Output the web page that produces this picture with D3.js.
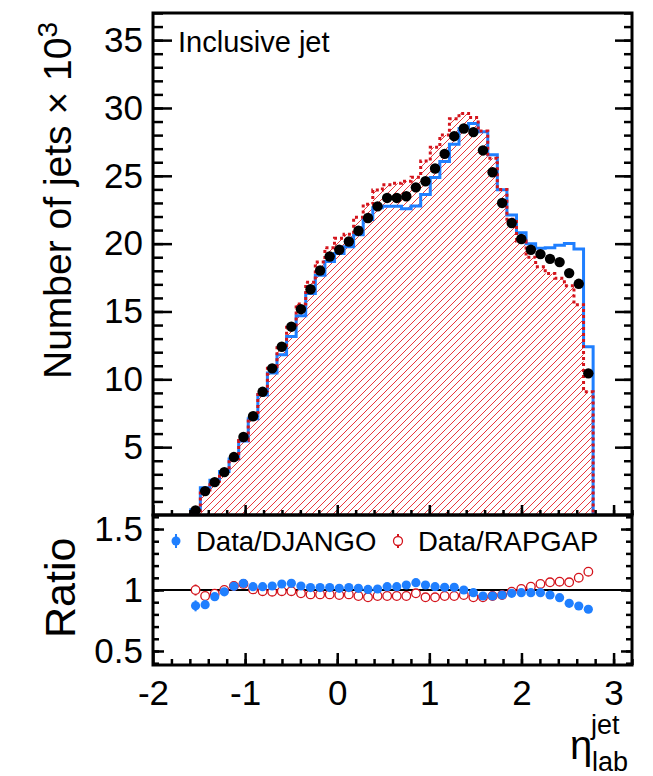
<!DOCTYPE html>
<html>

<head>
    <meta charset="utf-8">
    <style>
        body { margin: 0; background: #fff; }
        text { font-family: "Liberation Sans", Arial, Helvetica, sans-serif; fill: #000; }
        .axis .domain { display: none; }
        .axis line { stroke: #000; stroke-width: 2.5px; }
        .tick text { font-size: 35px; }
        .hatch-line { fill: none; stroke: #e8383c; stroke-width: 1px; }
    </style>
</head>

<body>
    <script src="https://cdn.jsdelivr.net/npm/d3@7/dist/d3.min.js"></script>
    <script>
        // bin edges in eta_lab (42 bins)
        var etaEdges = [-1.590, -1.486, -1.382, -1.278, -1.174, -1.070, -0.966, -0.862, -0.758, -0.654,
            -0.550, -0.446, -0.342, -0.238, -0.134, -0.030, 0.074, 0.178, 0.282, 0.386,
            0.490, 0.594, 0.698, 0.802, 0.906, 1.010, 1.114, 1.218, 1.322, 1.426,
            1.530, 1.634, 1.738, 1.842, 1.946, 2.050, 2.154, 2.258, 2.362, 2.466,
            2.570, 2.674, 2.778];

        // number of jets x 10^3
        var dataVals = [0.33, 1.76, 2.42, 3.16, 4.27, 5.75, 7.28, 9.08, 10.81, 12.40,
            13.88, 15.17, 16.64, 18.02, 19.05, 19.55, 20.16, 20.95, 21.89, 22.75,
            23.37, 23.37, 23.49, 24.15, 24.60, 25.54, 26.62, 27.92, 28.49, 28.22,
            26.87, 25.26, 23.00, 21.52, 20.34, 19.55, 19.23, 18.88, 18.64, 17.83,
            17.04, 10.44];
        var djangoVals = [0.38, 2.01, 2.56, 3.20, 4.13, 5.45, 7.09, 8.84, 10.46, 11.82,
            13.16, 14.69, 16.33, 17.68, 18.69, 19.28, 19.78, 20.66, 21.78, 22.64,
            22.76, 22.76, 22.57, 22.78, 23.63, 24.87, 26.05, 27.32, 28.49, 28.85,
            28.25, 26.56, 23.98, 22.12, 20.80, 19.99, 19.66, 19.69, 19.89, 20.01,
            19.61, 12.40];
        var rapgapVals = [0.33, 1.85, 2.49, 3.16, 4.15, 5.50, 7.25, 9.15, 10.95, 12.50,
            14.00, 15.55, 17.15, 18.65, 19.70, 20.40, 20.70, 21.95, 22.90, 23.95,
            24.35, 24.45, 24.60, 24.90, 26.10, 27.10, 28.00, 29.20, 29.60, 29.30,
            28.30, 26.30, 24.00, 21.80, 20.20, 19.00, 18.30, 17.80, 17.45, 16.90,
            15.50, 9.08];

        // ratios
        var ratioDjango = [0.870, 0.880, 0.945, 0.985, 1.030, 1.055, 1.027, 1.027, 1.033, 1.049,
            1.055, 1.033, 1.020, 1.020, 1.020, 1.014, 1.020, 1.014, 1.005, 1.008,
            1.027, 1.027, 1.041, 1.060, 1.041, 1.027, 1.022, 1.022, 1.000, 0.978,
            0.951, 0.951, 0.959, 0.973, 0.978, 0.978, 0.978, 0.959, 0.937, 0.891,
            0.869, 0.842];
        var ratioRapgap = [1.000, 0.951, 0.970, 1.000, 1.033, 1.050, 1.005, 0.990, 0.986, 0.990,
            0.990, 0.973, 0.964, 0.964, 0.964, 0.959, 0.964, 0.951, 0.940, 0.951,
            0.951, 0.951, 0.951, 0.973, 0.940, 0.940, 0.951, 0.951, 0.959, 0.940,
            0.940, 0.951, 0.959, 0.986, 1.008, 1.027, 1.050, 1.063, 1.068, 1.063,
            1.101, 1.150];
        var ratioErr = [0.045, 0.02, 0.015, 0.01, 0.01, 0.01, 0.01, 0.01, 0.01, 0.01,
            0.01, 0.01, 0.01, 0.01, 0.01, 0.01, 0.01, 0.01, 0.01, 0.01,
            0.01, 0.01, 0.01, 0.01, 0.01, 0.01, 0.01, 0.01, 0.01, 0.01,
            0.01, 0.01, 0.01, 0.01, 0.01, 0.01, 0.01, 0.01, 0.01, 0.01,
            0.01, 0.015];

        var xTicks = [-2, -1, 0, 1, 2, 3];
        var yMainTicks = [5, 10, 15, 20, 25, 30, 35];
        var yRatioTicks = [0.5, 1, 1.5];

        var blue = "#1f7fff", red = "#d4141c";

        var W = 653, H = 776;
        var padL = 153, padR = 632, padT = 13, padM = 515, padB = 665;

        var svg = d3.select("body").append("svg")
            .attr("width", W)
            .attr("height", H);

        var x = d3.scaleLinear().domain([-2, 3.2]).range([padL, padR]);
        var y = d3.scaleLinear().domain([0, 37]).range([padM, padT]);
        var yr = d3.scaleLinear().domain([0.385, 1.615]).range([padB, padM]);

        var plain = function (d) { return String(d); };

        // hatch pattern for RAPGAP
        var pat = svg.append("defs").append("pattern")
            .attr("id", "rapHatch")
            .attr("patternUnits", "userSpaceOnUse")
            .attr("width", 7).attr("height", 7);
        pat.append("path")
            .attr("class", "hatch-line")
            .attr("d", "M-1,1 L1,-1 M0,7 L7,0 M6,8 L8,6");

        var bins = dataVals.map(function (d, i) {
            return { lo: etaEdges[i], hi: etaEdges[i + 1], c: (etaEdges[i] + etaEdges[i + 1]) / 2 };
        });

        // step outline points for a histogram
        function steps(vals) {
            var pts = [[etaEdges[0], 0]];
            vals.forEach(function (v, i) {
                pts.push([etaEdges[i], v]);
                pts.push([etaEdges[i + 1], v]);
            });
            pts.push([etaEdges[etaEdges.length - 1], 0]);
            return pts;
        }

        var line = d3.line()
            .x(function (d) { return x(d[0]); })
            .y(function (d) { return y(d[1]); });

        var main = svg.append("g");

        // RAPGAP hatched area
        main.append("path")
            .attr("d", line(steps(rapgapVals)) + "Z")
            .style("fill", "url(#rapHatch)")
            .style("stroke", "none");

        // DJANGO solid blue
        main.append("path")
            .attr("d", line(steps(djangoVals)))
            .attr("fill", "none")
            .attr("stroke", blue)
            .attr("stroke-width", 3);

        // RAPGAP dotted red
        main.append("path")
            .attr("d", line(steps(rapgapVals)))
            .attr("fill", "none")
            .attr("stroke", red)
            .attr("stroke-width", 3)
            .attr("stroke-dasharray", "3,3");

        // data points
        main.selectAll(".dot")
            .data(bins)
            .enter().append("circle")
            .attr("cx", function (d) { return x(d.c); })
            .attr("cy", function (d, i) { return y(dataVals[i]); })
            .attr("r", 5.2)
            .attr("fill", "#000");

        // ratio panel
        var rp = svg.append("g");

        rp.append("line")
            .attr("x1", padL).attr("x2", padR)
            .attr("y1", yr(1)).attr("y2", yr(1))
            .attr("stroke", "#000").attr("stroke-width", 2);

        rp.selectAll(".eb")
            .data(bins)
            .enter().append("line")
            .attr("x1", function (d) { return x(d.c); })
            .attr("x2", function (d) { return x(d.c); })
            .attr("y1", function (d, i) { return yr(ratioRapgap[i] - ratioErr[i]); })
            .attr("y2", function (d, i) { return yr(ratioRapgap[i] + ratioErr[i]); })
            .attr("stroke", red).attr("stroke-width", 2);

        rp.selectAll(".rr")
            .data(bins)
            .enter().append("circle")
            .attr("cx", function (d) { return x(d.c); })
            .attr("cy", function (d, i) { return yr(ratioRapgap[i]); })
            .attr("r", 4.3)
            .attr("fill", "#fff")
            .attr("stroke", red)
            .attr("stroke-width", 1.3);

        rp.selectAll(".ebd")
            .data(bins)
            .enter().append("line")
            .attr("x1", function (d) { return x(d.c); })
            .attr("x2", function (d) { return x(d.c); })
            .attr("y1", function (d, i) { return yr(ratioDjango[i] - ratioErr[i]); })
            .attr("y2", function (d, i) { return yr(ratioDjango[i] + ratioErr[i]); })
            .attr("stroke", blue).attr("stroke-width", 2);

        rp.selectAll(".rd")
            .data(bins)
            .enter().append("circle")
            .attr("cx", function (d) { return x(d.c); })
            .attr("cy", function (d, i) { return yr(ratioDjango[i]); })
            .attr("r", 4.6)
            .attr("fill", blue);

        // axes: ticks point inward, ROOT style
        function minor(lo, hi, step) {
            var v = [];
            for (var t = lo; t <= hi + 1e-9; t += step) v.push(+t.toFixed(3));
            return v;
        }

        // main panel left
        svg.append("g").attr("class", "axis").attr("transform", "translate(" + padL + ",0)")
            .call(d3.axisLeft(y).tickValues(minor(1, 37, 1)).tickSize(-10).tickFormat(""));
        svg.append("g").attr("class", "axis").attr("transform", "translate(" + padL + ",0)")
            .call(d3.axisLeft(y).tickValues(yMainTicks).tickSize(-19).tickPadding(10).tickFormat(plain));
        // main panel right
        svg.append("g").attr("class", "axis").attr("transform", "translate(" + padR + ",0)")
            .call(d3.axisRight(y).tickValues(minor(1, 37, 1)).tickSize(-8).tickFormat(""));
        svg.append("g").attr("class", "axis").attr("transform", "translate(" + padR + ",0)")
            .call(d3.axisRight(y).tickValues(yMainTicks).tickSize(-17).tickFormat(""));
        // main panel bottom
        svg.append("g").attr("class", "axis").attr("transform", "translate(0," + padM + ")")
            .call(d3.axisBottom(x).tickValues(minor(-1.8, 3.2, 0.2)).tickSize(-5).tickFormat(""));
        svg.append("g").attr("class", "axis").attr("transform", "translate(0," + padM + ")")
            .call(d3.axisBottom(x).tickValues(xTicks).tickSize(-10).tickFormat(""));

        // ratio panel left / right
        svg.append("g").attr("class", "axis").attr("transform", "translate(" + padL + ",0)")
            .call(d3.axisLeft(yr).tickValues(minor(0.4, 1.6, 0.1)).tickSize(-6).tickFormat(""));
        svg.append("g").attr("class", "axis").attr("transform", "translate(" + padL + ",0)")
            .call(d3.axisLeft(yr).tickValues(yRatioTicks).tickSize(-11).tickPadding(10).tickFormat(plain));
        svg.append("g").attr("class", "axis").attr("transform", "translate(" + padR + ",0)")
            .call(d3.axisRight(yr).tickValues(minor(0.4, 1.6, 0.1)).tickSize(-6).tickFormat(""));
        svg.append("g").attr("class", "axis").attr("transform", "translate(" + padR + ",0)")
            .call(d3.axisRight(yr).tickValues(yRatioTicks).tickSize(-11).tickFormat(""));
        // ratio panel bottom
        svg.append("g").attr("class", "axis").attr("transform", "translate(0," + padB + ")")
            .call(d3.axisBottom(x).tickValues(minor(-1.8, 3.2, 0.2)).tickSize(-6).tickFormat(""));
        svg.append("g").attr("class", "axis").attr("transform", "translate(0," + padB + ")")
            .call(d3.axisBottom(x).tickValues(xTicks).tickSize(-12).tickPadding(15).tickFormat(plain));

        // frames
        [[padT, padM], [padM, padB]].forEach(function (p) {
            svg.append("rect")
                .attr("x", padL).attr("y", p[0])
                .attr("width", padR - padL).attr("height", p[1] - p[0])
                .attr("fill", "none")
                .attr("stroke", "#000")
                .attr("stroke-width", 3);
        });

        // labels
        svg.append("text")
            .attr("x", 178).attr("y", 52)
            .style("font-size", "29px")
            .text("Inclusive jet");

        var yt = svg.append("text")
            .attr("transform", "translate(71,379) rotate(-90)")
            .style("font-size", "39px");
        yt.append("tspan").text("Number of jets \u00d7 10");
        yt.append("tspan").attr("dy", "-0.5em").style("font-size", "28px").text("3");

        svg.append("text")
            .attr("transform", "translate(75,638) rotate(-90)")
            .style("font-size", "43px")
            .text("Ratio");

        var xt = svg.append("text")
            .attr("x", 570).attr("y", 759)
            .style("font-size", "40px");
        xt.append("tspan").text("\u03b7");
        xt.append("tspan").attr("x", 591).attr("y", 734).style("font-size", "27px").text("jet");
        xt.append("tspan").attr("x", 592).attr("y", 771).style("font-size", "27px").text("lab");

        // legend
        var leg = [
            { label: "Data/DJANGO", x: 176, filled: true, col: blue },
            { label: "Data/RAPGAP", x: 398, filled: false, col: red }
        ];
        leg.forEach(function (l) {
            svg.append("line")
                .attr("x1", l.x).attr("x2", l.x)
                .attr("y1", 534).attr("y2", 548)
                .attr("stroke", l.col).attr("stroke-width", 2);
            svg.append("circle")
                .attr("cx", l.x).attr("cy", 541)
                .attr("r", 4.5)
                .attr("fill", l.filled ? l.col : "#fff")
                .attr("stroke", l.filled ? "none" : l.col)
                .attr("stroke-width", 1.3);
            svg.append("text")
                .attr("x", l.x + 20).attr("y", 551)
                .style("font-size", "27.5px")
                .text(l.label);
        });
    </script>
</body>

</html>
